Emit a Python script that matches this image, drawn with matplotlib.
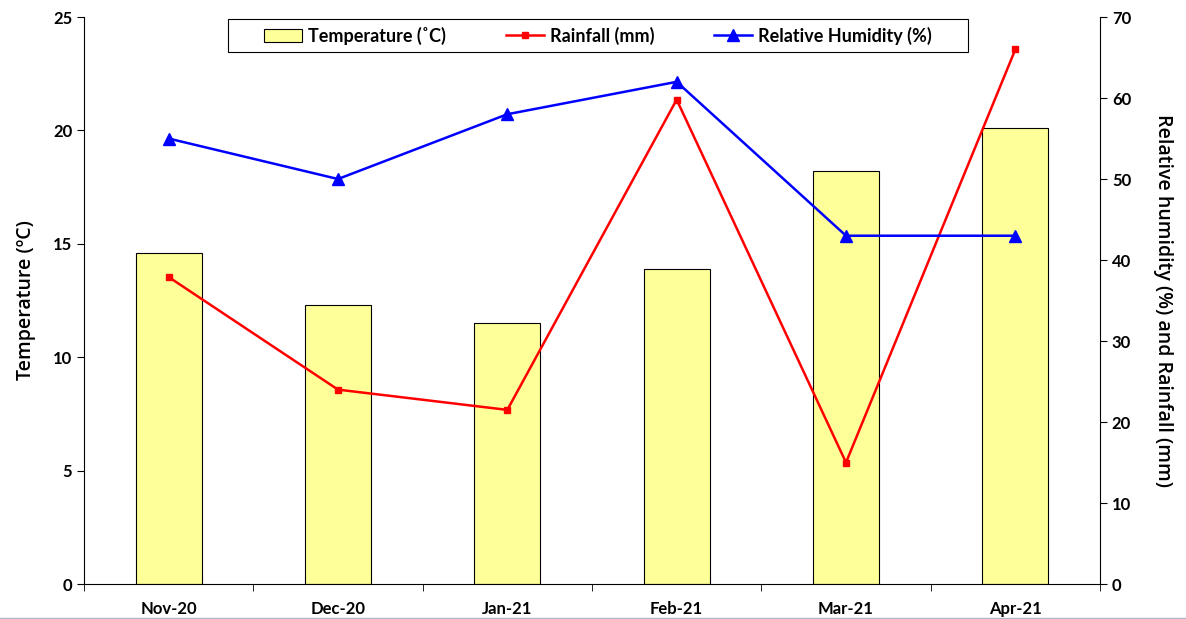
import matplotlib.pyplot as plt
from matplotlib.patches import Rectangle
from matplotlib.lines import Line2D
import numpy as np

months = ["Nov-20", "Dec-20", "Jan-21", "Feb-21", "Mar-21", "Apr-21"]
temperature = [14.6, 12.3, 11.5, 13.9, 18.2, 20.1]
rainfall = [37.9, 24.0, 21.5, 59.8, 15.0, 66.0]
humidity = [55, 50, 58, 62, 43, 43]

plt.rcParams['font.family'] = ['Lato', 'DejaVu Sans']

fig = plt.figure(figsize=(11.86, 6.19), dpi=100)
ax1 = fig.add_axes([0.0708, 0.0565, 0.8567, 0.916])
ax2 = ax1.twinx()

x = np.arange(len(months))

# Temperature bars
bars = ax1.bar(x, temperature, width=0.39, color="#ffff99", edgecolor="black",
               linewidth=0.8, label="Temperature (\u02daC)", zorder=1)
ax1.set_ylim(0, 25)
ax1.set_xlim(-0.5, len(months) - 0.5)
ax1.set_yticks(range(0, 26, 5))
ax1.set_xticks(x)
ax1.set_xticklabels(months, fontweight="bold", fontsize=12)
ax1.set_xticks(np.arange(-0.5, len(months), 1), minor=True)
ax1.tick_params(axis="x", which="major", length=0, pad=12)
ax1.tick_params(axis="x", which="minor", length=5, direction="out")
ax1.tick_params(axis="y", labelsize=12, length=5, direction="out")
for lab in ax1.get_yticklabels():
    lab.set_fontweight("bold")
ax1.set_ylabel("Temperature (\u00baC)", fontsize=14, fontweight="semibold",
               family="Open Sans", labelpad=12)

# Rainfall and humidity lines
l1, = ax2.plot(x, rainfall, color="red", marker="s", markersize=5, linewidth=1.8,
               label="Rainfall (mm)", zorder=3)
l2, = ax2.plot(x, humidity, color="blue", marker="^", markersize=9, linewidth=1.8,
               label="Relative Humidity (%)", zorder=3)
ax2.set_ylim(0, 70)
ax2.set_yticks(range(0, 71, 10))
ax2.tick_params(axis="y", labelsize=12, length=5, direction="out")
for lab in ax2.get_yticklabels():
    lab.set_fontweight("bold")
ax2.set_ylabel("Relative humidity (%) and Rainfall (mm)", fontsize=14,
               fontweight="semibold", family="Open Sans", rotation=270,
               labelpad=30)

for ax in (ax1, ax2):
    ax.spines["top"].set_visible(False)
ax1.spines["right"].set_visible(False)
ax2.spines["left"].set_visible(False)
ax2.spines["bottom"].set_visible(False)

# legend frame drawn separately so its padding matches the original
fw, fh = 1186, 619
fig.add_artist(Rectangle((228 / fw, 1 - 52 / fh), 740 / fw, 33 / fh,
                         transform=fig.transFigure, facecolor="white",
                         edgecolor="black", linewidth=0.8, zorder=4))
leg = fig.legend([bars, l1, l2], [bars.get_label(), l1.get_label(), l2.get_label()],
                 ncol=3, loc="center", bbox_to_anchor=(598 / fw, 1 - 35.5 / fh),
                 bbox_transform=fig.transFigure, frameon=False,
                 prop={"weight": "bold", "size": 13}, columnspacing=3.3,
                 handlelength=2.1, handletextpad=0.35)
leg.set_zorder(5)

fig.add_artist(Line2D([0, 1], [1.5 / fh, 1.5 / fh], transform=fig.transFigure,
                      color="#b0b8c8", linewidth=1))

fig.savefig("out.png", dpi=100)
